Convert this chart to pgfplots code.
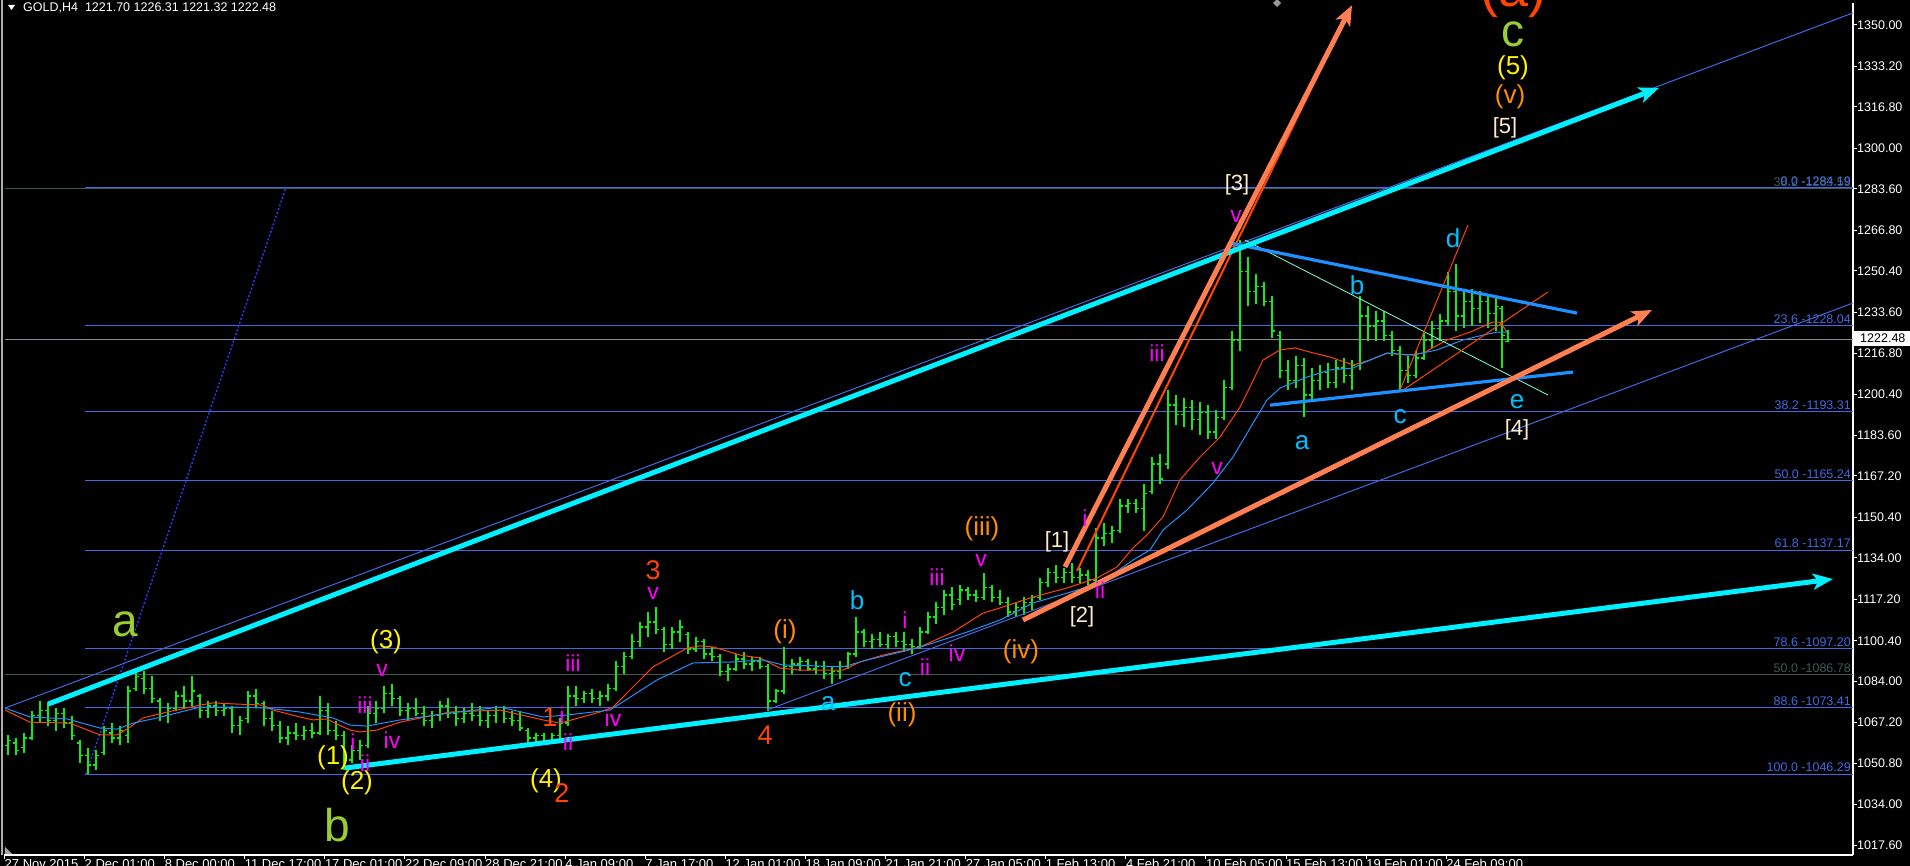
\documentclass[border=0pt]{standalone}
\usepackage{fontspec}
\setmainfont{Liberation Sans}
\usepackage{pgfplots}
\pgfplotsset{compat=1.18}
\usepackage{pgfplotstable}
\usetikzlibrary{arrows.meta}
\definecolor{bargreen}{RGB}{20,235,20}
\definecolor{mared}{RGB}{255,69,0}
\definecolor{mablue}{RGB}{30,144,255}
\definecolor{fibblue}{RGB}{65,105,225}
\definecolor{fibgray}{RGB}{60,90,85}
\definecolor{cyanl}{RGB}{0,240,255}
\definecolor{coral}{RGB}{255,127,80}
\definecolor{ygreen}{RGB}{154,205,50}
\definecolor{orng}{RGB}{255,140,0}
\definecolor{ored}{RGB}{255,69,0}
\definecolor{mag}{RGB}{255,0,255}
\definecolor{dsb}{RGB}{0,191,255}
\definecolor{bisq}{RGB}{255,235,205}
\definecolor{aquam}{RGB}{127,255,212}
\definecolor{curgray}{RGB}{135,140,150}
\definecolor{dotblue}{RGB}{40,60,255}
\newcommand{\fs}[1]{\fontsize{#1}{#1}\selectfont}
\newcommand{\wl}[4]{\node[inner sep=0pt, text=#1, font=\fs{#2}] at (axis cs:#3) {#4};}
\newcommand{\fl}[3]{\node[anchor=south east, inner sep=0pt, yshift=2pt, text=#1, font=\fs{12.5}] at (axis cs:1851,#2) {#3};}
\pgfdeclareplotmark{ctick}{\pgfpathmoveto{\pgfqpoint{0pt}{0pt}}\pgfpathlineto{\pgfqpoint{3pt}{0pt}}\pgfusepathqstroke}
\pgfdeclareplotmark{otick}{\pgfpathmoveto{\pgfqpoint{-3pt}{0pt}}\pgfpathlineto{\pgfqpoint{0pt}{0pt}}\pgfusepathqstroke}
\pgfplotstableread{
x o h l c
8 1058 1062 1054 1060
16 1059 1061 1054 1056
24 1057 1063 1055 1061
32 1061 1072 1060 1070
40 1070 1076 1067 1072
48 1072 1075 1066 1068
56 1068 1073 1064 1071
64 1071 1073 1065 1067
72 1067 1070 1060 1062
80 1059 1060 1051 1054
88 1054 1057 1046.5 1050
96 1050 1056 1048 1054
104 1055 1066 1054 1064
112 1063 1067 1059 1061
120 1061 1066 1058 1064
128 1062 1082 1059 1080
136 1081 1089 1080 1086
144 1085 1088 1079 1081
152 1081 1086 1075 1077
160 1076 1077 1068 1071
168 1070 1075 1067 1073
176 1073 1080 1072 1078
184 1078 1082 1073 1076
192 1076 1086 1074 1080
200 1078 1079 1069 1072
208 1072 1076 1069 1074
216 1074 1076 1070 1072
224 1072 1075 1070 1073
232 1073 1074 1063 1066
240 1066 1070 1062 1068
248 1069 1080 1067 1078
256 1078 1081 1073 1075
264 1075 1076 1066 1069
272 1069 1072 1064 1066
280 1066 1068 1059 1061
288 1061 1066 1058 1063
296 1063 1067 1060 1062
304 1062 1066 1060 1064
312 1064 1067 1061 1063
320 1063 1078 1062 1072
328 1072 1075 1062 1064
336 1064 1068 1060 1062
344 1062 1064 1048 1052
352 1052 1058 1051 1056
360 1056 1060 1052 1058
368 1058 1074 1057 1071
376 1071 1076 1067 1073
384 1073 1082 1071 1079
392 1079 1083 1074 1077
400 1077 1078 1070 1072
408 1072 1075 1068 1073
416 1073 1077 1070 1071
424 1071 1074 1066 1068
432 1068 1072 1065 1070
440 1070 1076 1068 1074
448 1074 1077 1069 1071
456 1071 1074 1066 1069
464 1069 1073 1067 1071
472 1071 1075 1068 1070
480 1070 1074 1066 1068
488 1068 1072 1065 1070
496 1070 1074 1067 1072
504 1072 1074 1067 1069
512 1069 1072 1066 1068
520 1068 1072 1064 1065
528 1064 1065 1059 1061
536 1061 1063 1059 1062
544 1062 1063 1058 1060
552 1060 1063 1059 1062
560 1062 1069 1060 1067
568 1067 1082 1066 1078
576 1078 1082 1074 1077
584 1077 1080 1075 1079
592 1079 1081 1075 1077
600 1077 1080 1074 1078
608 1078 1083 1076 1081
616 1081 1092 1080 1090
624 1090 1096 1087 1094
632 1094 1103 1093 1100
640 1100 1108 1098 1106
648 1106 1112 1102 1108
656 1108 1114 1103 1105
664 1105 1106 1096 1099
672 1099 1106 1097 1104
680 1104 1109 1100 1106
688 1103 1104 1095 1097
696 1097 1102 1096 1100
704 1100 1101 1093 1095
712 1095 1098 1092 1094
720 1094 1095 1086 1088
728 1088 1091 1084 1089
736 1089 1095 1088 1093
744 1093 1096 1089 1091
752 1091 1094 1088 1092
760 1092 1094 1089 1090
768 1090 1091 1072 1076
776 1076 1081 1075 1080
784 1080 1098 1079 1090
792 1090 1093 1087 1091
800 1091 1094 1088 1092
808 1092 1093 1088 1089
816 1089 1092 1087 1090
824 1090 1092 1085 1087
832 1087 1090 1083 1088
840 1088 1092 1085 1090
848 1090 1096 1089 1095
856 1095 1110 1094 1104
864 1104 1105 1098 1100
872 1100 1103 1097 1101
880 1101 1104 1098 1099
888 1099 1103 1097 1102
896 1102 1104 1098 1100
904 1100 1104 1096 1099
912 1099 1101 1095 1098
920 1098 1106 1097 1104
928 1104 1112 1103 1110
936 1110 1116 1107 1114
944 1114 1121 1111 1119
952 1119 1122 1113 1115
960 1117 1123 1115 1121
968 1121 1122 1117 1119
976 1119 1121 1116 1118
984 1118 1128 1117 1122
992 1122 1123 1116 1118
1000 1118 1121 1115 1116
1008 1116 1118 1110 1112
1016 1112 1116 1110 1114
1024 1114 1118 1111 1116
1032 1116 1119 1113 1118
1040 1118 1126 1117 1124
1048 1124 1130 1122 1128
1056 1128 1131 1124 1126
1064 1126 1130 1124 1128
1072 1128 1132 1124 1126
1080 1126 1130 1124 1127
1088 1127 1129 1123 1125
1096 1125 1146 1124 1142
1104 1142 1148 1139 1144
1112 1144 1147 1140 1145
1120 1145 1158 1144 1155
1128 1155 1158 1152 1156
1136 1156 1158 1152 1154
1144 1154 1164 1145 1160
1152 1161 1175 1160 1172
1160 1172 1176 1164 1166
1168 1172 1202 1170 1196
1176 1196 1200 1188 1192
1184 1192 1199 1187 1195
1192 1195 1198 1186 1190
1200 1190 1197 1184 1193
1208 1193 1196 1182 1185
1216 1185 1194 1182 1191
1224 1191 1206 1190 1203
1232 1203 1226 1202 1222
1240 1222 1263 1218 1250
1248 1250 1256 1236 1242
1256 1242 1249 1237 1244
1264 1244 1246 1236 1238
1272 1238 1240 1223 1226
1280 1224 1226 1207 1210
1288 1210 1214 1202 1206
1296 1206 1216 1203 1212
1304 1212 1215 1191 1200
1312 1200 1211 1198 1206
1320 1206 1212 1202 1209
1328 1209 1213 1203 1205
1336 1205 1214 1203 1211
1344 1211 1215 1205 1208
1352 1208 1214 1202 1212
1360 1212 1240 1210 1232
1368 1232 1236 1222 1228
1376 1228 1234 1222 1230
1384 1230 1234 1222 1224
1392 1224 1226 1216 1218
1400 1218 1220 1202 1210
1408 1210 1216 1205 1208
1416 1208 1218 1207 1215
1424 1215 1225 1214 1222
1432 1222 1230 1219 1227
1440 1227 1233 1222 1230
1448 1230 1250 1228 1242
1456 1242 1253 1226 1232
1464 1232 1243 1227 1238
1472 1238 1243 1228 1235
1480 1235 1242 1229 1238
1488 1238 1241 1227 1233
1496 1233 1240 1226 1236
1502 1235 1236 1211 1224
1508 1221.70 1226.31 1221.32 1222.48
}\bars
\begin{document}
\begin{tikzpicture}[x=1pt,y=1pt]
\fill[black] (-4,-11) rectangle (1906,855);
\fill[gray!65] (-2.5,0) rectangle (-0.5,855);
\begin{axis}[
  at={(0,0)}, anchor=south west,
  scale only axis, width=1849pt, height=852pt,
  xmin=4, xmax=1853, ymin=1013.55, ymax=1358.92,
  clip mode=individual,
  axis x line*=bottom, axis y line*=right,
  axis line style={white, line width=1.6pt},
  tick align=outside, major tick length=4pt,
  tick style={white, line width=1pt},
  xtick={4.5,84.5,164.6,244.7,324.8,404.9,485,565.1,645.2,725.3,805.4,885.5,965.6,1045.7,1125.8,1205.9,1286,1366.1,1446.2},
  xticklabels={27 Nov 2015,2 Dec 01:00,8 Dec 00:00,11 Dec 17:00,17 Dec 01:00,22 Dec 09:00,28 Dec 21:00,4 Jan 09:00,7 Jan 17:00,12 Jan 01:00,18 Jan 09:00,21 Jan 21:00,27 Jan 05:00,1 Feb 13:00,4 Feb 21:00,10 Feb 05:00,15 Feb 13:00,19 Feb 01:00,24 Feb 09:00},
  xticklabel style={anchor=north west, inner sep=0pt, font=\fs{13}, text=white},
  ytick={1017.6,1034,1050.8,1067.2,1084,1100.4,1117.2,1134,1150.4,1167.2,1183.6,1200.4,1216.8,1233.6,1250.4,1266.8,1283.6,1300,1316.8,1333.2,1350},
  yticklabels={1017.60,1034.00,1050.80,1067.20,1084.00,1100.40,1117.20,1134.00,1150.40,1167.20,1183.60,1200.40,1216.80,1233.60,1250.40,1266.80,1283.60,1300.00,1316.80,1333.20,1350.00},
  yticklabel style={anchor=west, inner sep=0pt, font=\fs{12.5}, text=white},
]
% Fibonacci levels
\addplot[fibgray, line width=1pt] coordinates {(5,1283.6) (1853,1283.6)};
\addplot[fibgray, line width=1pt] coordinates {(5,1086.78) (1853,1086.78)};
\addplot[fibblue, line width=1pt] coordinates {(85,1284.19) (1853,1284.19)};
\addplot[fibblue, line width=1pt] coordinates {(85,1228.04) (1853,1228.04)};
\addplot[fibblue, line width=1pt] coordinates {(85,1193.31) (1853,1193.31)};
\addplot[fibblue, line width=1pt] coordinates {(85,1165.24) (1853,1165.24)};
\addplot[fibblue, line width=1pt] coordinates {(85,1137.17) (1853,1137.17)};
\addplot[fibblue, line width=1pt] coordinates {(85,1097.20) (1853,1097.20)};
\addplot[fibblue, line width=1pt] coordinates {(85,1073.41) (1853,1073.41)};
\addplot[fibblue, line width=1pt] coordinates {(85,1046.29) (1853,1046.29)};
\addplot[dotblue, line width=1.4pt, dash pattern=on 2pt off 2pt] coordinates {(86,1046.29) (286,1284.19)};
% current price
\addplot[curgray, line width=1pt] coordinates {(5,1222.48) (1853,1222.48)};
% bars
\addplot[only marks, mark=ctick, mark options={bargreen, line width=1.3pt}, bargreen,
  error bars/.cd, y dir=both, y explicit, error mark=none,
  error bar style={line width=1.6pt, bargreen}]
  table[x=x, y=c, y error plus expr=\thisrow{h}-\thisrow{c}, y error minus expr=\thisrow{c}-\thisrow{l}] {\bars};
\addplot[only marks, mark=otick, mark options={bargreen, line width=1.3pt}] table[x=x, y=o] {\bars};
% moving averages
\addplot[mared, line width=1pt] coordinates {(5,1072.3) (30,1067.4) (70,1067.0) (100,1062.2) (117,1062.2) (130,1065.4) (143,1069.1) (167,1071.5) (200,1074.3) (213,1075.2) (233,1074.8) (263,1074.3) (273,1072.3) (300,1069.5) (313,1068.3) (327,1068.7) (333,1067.4) (350,1064.2) (360,1063.4) (377,1064.2) (400,1067.4) (450,1071.5) (500,1072.3) (543,1068.3) (560,1067.0) (600,1071.5) (613,1073.5) (653,1089.8) (687,1097.4) (700,1098.3) (713,1097.9) (740,1094.6) (760,1093.4) (780,1089.3) (800,1088.5) (843,1088.5) (860,1091.8) (883,1094.6) (920,1097.9) (953,1103.9) (983,1111.6) (1000,1113.7) (1033,1118.1) (1067,1121.8) (1097,1125.8) (1117,1130.3) (1133,1138.0) (1147,1143.3) (1163,1150.6) (1180,1165.6) (1200,1174.9) (1220,1183.0) (1240,1195.1) (1250,1203.3) (1263,1214.2) (1280,1218.3) (1295,1219.1) (1310,1217.4) (1330,1215.4) (1353,1212.2) (1370,1214.2) (1387,1217.0) (1407,1216.2) (1423,1217.0) (1447,1222.3) (1470,1225.5) (1493,1229.6) (1500,1229.6) (1507,1225.5)};
\addplot[mablue, line width=1pt] coordinates {(5,1073.1) (30,1069.5) (67,1068.7) (100,1065.0) (117,1064.6) (133,1067.0) (157,1069.1) (200,1073.5) (233,1073.5) (267,1073.1) (300,1071.5) (333,1069.1) (350,1066.2) (367,1065.8) (400,1068.3) (450,1071.1) (500,1073.5) (543,1069.5) (567,1070.3) (610,1072.3) (657,1084.5) (693,1091.4) (733,1091.8) (763,1092.6) (783,1090.6) (817,1090.2) (843,1089.8) (867,1092.6) (917,1097.4) (967,1103.9) (1000,1108.8) (1033,1115.7) (1067,1119.7) (1100,1123.8) (1133,1133.1) (1150,1137.2) (1163,1145.3) (1187,1153.4) (1213,1164.3) (1233,1174.9) (1253,1188.6) (1267,1198.0) (1280,1202.8) (1307,1207.3) (1330,1210.2) (1353,1210.9) (1363,1213.0) (1387,1217.0) (1413,1216.2) (1437,1218.3) (1463,1222.3) (1483,1224.3) (1497,1225.5) (1507,1225.5)};
% thin trend lines
\addplot[fibblue, line width=1pt] coordinates {(5,1073.1) (1853,1354.9)};
\addplot[fibblue, line width=1pt] coordinates {(767,1072.3) (1853,1237.3)};
\addplot[aquam, line width=0.8pt] coordinates {(1245,1262.8) (1548,1200.0)};
\addplot[mared, line width=1pt] coordinates {(1400,1202) (1468,1268.9)};
\addplot[mared, line width=1pt] coordinates {(1403,1202) (1548,1241.8)};
\addplot[mared, line width=2pt] coordinates {(1077,1128.7) (1335,1344)};
% triangle
\addplot[mablue, line width=3.2pt] coordinates {(1230,1261.6) (1577,1233.2)};
\addplot[mablue, line width=3.2pt] coordinates {(1270,1195.9) (1573,1209.3)};
% thick arrows
\addplot[cyanl, line width=5pt, -{Stealth[length=20pt,width=16pt,inset=5pt]}] coordinates {(48,1074.7) (1659,1324.5)};
\addplot[cyanl, line width=5pt, -{Stealth[length=20pt,width=16pt,inset=5pt]}] coordinates {(345,1048.8) (1833,1125.4)};
\addplot[coral, line width=5pt, -{Stealth[length=20pt,width=16pt,inset=5pt]}] coordinates {(1065,1130.3) (1352,1358.0)};
\addplot[coral, line width=5pt, -{Stealth[length=20pt,width=16pt,inset=5pt]}] coordinates {(1023,1108.8) (1652,1234.5)};
% fib labels
\fl{fibgray}{1283.6}{38.2 -1283.59}
\fl{fibblue}{1284.19}{0.0 -1284.19}
\fl{fibblue}{1228.04}{23.6 -1228.04}
\fl{fibblue}{1193.31}{38.2 -1193.31}
\fl{fibblue}{1165.24}{50.0 -1165.24}
\fl{fibblue}{1137.17}{61.8 -1137.17}
\fl{fibblue}{1097.20}{78.6 -1097.20}
\fl{fibgray}{1086.78}{50.0 -1086.78}
\fl{fibblue}{1073.41}{88.6 -1073.41}
\fl{fibblue}{1046.29}{100.0 -1046.29}
% wave labels
\wl{ygreen}{46}{125,1107.2}{a}
\wl{ygreen}{46}{337,1025.7}{b}
\wl{ygreen}{46}{1513,1346.1}{c}
\node[anchor=base, inner sep=0pt, text=ored, font=\fs{54}] at (axis cs:1513,1357.3) {(a)};
\wl{yellow}{26}{386,1099.9}{(3)}
\wl{yellow}{26}{333,1052.9}{(1)}
\wl{yellow}{26}{357,1042.7}{(2)}
\wl{yellow}{26}{546,1043.6}{(4)}
\wl{yellow}{26}{1513,1332.6}{(5)}
\wl{orng}{26}{785,1103.9}{(i)}
\wl{orng}{26}{902,1070.3}{(ii)}
\wl{orng}{26}{982,1145.7}{(iii)}
\wl{orng}{26}{1021,1095.9}{(iv)}
\wl{orng}{26}{1510,1320.8}{(v)}
\wl{ored}{27}{653,1129.1}{3}
\wl{ored}{27}{765,1062.2}{4}
\wl{ored}{27}{550,1069.5}{1}
\wl{ored}{27}{562,1038.7}{2}
\wl{mag}{23}{653,1119.7}{v}
\wl{mag}{23}{573,1091.4}{iii}
\wl{mag}{23}{562,1070.3}{i}
\wl{mag}{23}{568,1059.4}{ii}
\wl{mag}{23}{613,1069.1}{iv}
\wl{mag}{23}{365,1074.3}{iii}
\wl{mag}{23}{353,1059.4}{i}
\wl{mag}{23}{365,1050.8}{ii}
\wl{mag}{23}{392,1060.2}{iv}
\wl{mag}{23}{382,1088.5}{v}
\wl{mag}{23}{937,1126.2}{iii}
\wl{mag}{23}{905,1108.8}{i}
\wl{mag}{23}{925,1089.8}{ii}
\wl{mag}{23}{957,1095.4}{iv}
\wl{mag}{23}{981,1133.1}{v}
\wl{mag}{23}{1085,1150.1}{i}
\wl{mag}{23}{1100,1121.0}{ii}
\wl{mag}{23}{1157,1217.0}{iii}
\wl{mag}{23}{1217,1170.4}{v}
\wl{mag}{23}{1236,1272.2}{v}
\wl{dsb}{26}{857,1116.9}{b}
\wl{dsb}{26}{905,1084.5}{c}
\wl{dsb}{26}{828,1075.1}{a}
\wl{dsb}{26}{1302,1180.9}{a}
\wl{dsb}{26}{1357,1244.6}{b}
\wl{dsb}{26}{1400,1191.1}{c}
\wl{dsb}{26}{1453,1263.6}{d}
\wl{dsb}{26}{1517,1197.2}{e}
\wl{bisq}{22}{1057,1140.4}{[1]}
\wl{bisq}{22}{1082,1110.0}{[2]}
\wl{bisq}{22}{1237,1285.1}{[3]}
\wl{bisq}{22}{1517,1185.8}{[4]}
\wl{bisq}{22}{1505,1308.2}{[5]}
\end{axis}
% header
\fill[white] (4,850) -- (11,850) -- (7.5,845) -- cycle;
\node[anchor=base west, inner sep=0pt, text=white, font=\fs{12.5}] at (19,843.3) {GOLD,H4\ \ 1221.70 1226.31 1221.32 1222.48};
% current price box
\fill[white] (1850,509) rectangle (1906,524);
\node[anchor=west, inner sep=0pt, text=black, font=\fs{12.5}] at (1856,516.5) {1222.48};
% small markers
\fill[gray!80] (1269,852) -- (1273,856) -- (1277,852) -- (1273,848) -- cycle;
\fill[gray!70] (1,1) -- (8,1) -- (1,8) -- cycle;
\pgfresetboundingbox
\path[use as bounding box] (-4,-11) rectangle (1906,855);
\end{tikzpicture}
\end{document}
